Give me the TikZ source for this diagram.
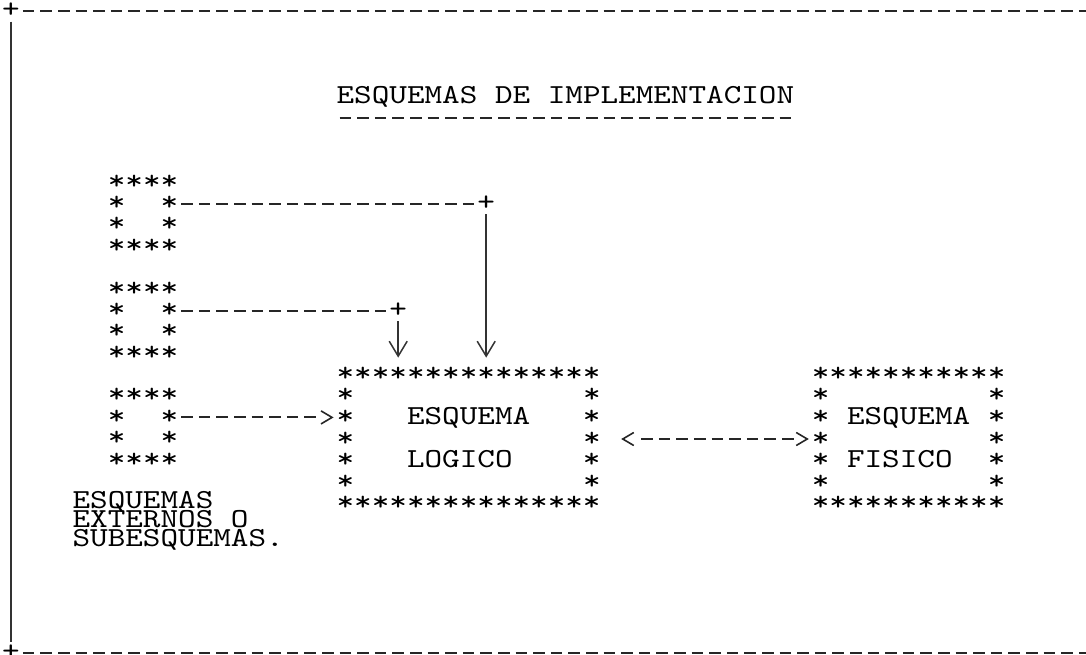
\documentclass[tikz,border=0pt]{standalone}
\usepackage{fontspec}
\newfontfamily\cour{lmmono10-regular}[Extension=.otf, FakeStretch=1.219]
\usetikzlibrary{arrows.meta,
                positioning}
% one text row of the grid: fixed height and depth
\newcommand\rw[1]{\rule[-3.7pt]{0pt}{21.3pt}#1}
\newcommand\tightrows{\lineskiplimit=-30pt\relax}

\begin{document}
\begin{tikzpicture}[
    x = 17.6pt, y = -21.4pt,
    node distance = 21.4pt and 211.2pt,
        txt/.style = {font=\cour\fontsize{27.5pt}{21.4pt}\selectfont,
                      inner sep=0pt, outer sep=0pt, align=left},
      plain/.style = {txt, font=\cour\fontsize{27.5pt}{19pt}\selectfont\tightrows},
       hyph/.style = {draw=black!85, line width=1.8pt,
                      dash pattern=on 11.6pt off 6pt, dash phase=14.6pt},
       % eight dashes, then nothing under the tip
       feed/.style = {hyph, line width=2.1pt, dash phase=0pt,
                      dash pattern=on 0pt off 3pt on 11.6pt off 6pt on 11.6pt off 6pt
                      on 11.6pt off 6pt on 11.6pt off 6pt on 11.6pt off 6pt on 11.6pt off 6pt
                      on 11.6pt off 6pt on 11.6pt off 40pt},
       % nine dashes between two tips
       twin/.style = {hyph, line width=2.1pt, dash phase=0pt,
                      dash pattern=on 0pt off 17.6pt on 11.6pt off 6pt on 11.6pt off 6pt
                      on 11.6pt off 6pt on 11.6pt off 6pt on 11.6pt off 6pt on 11.6pt off 6pt
                      on 11.6pt off 6pt on 11.6pt off 6pt on 11.6pt off 40pt},
       vert/.style = {draw=black!80, line width=1.5pt},
       vtip/.style = {-{Straight Barb[length=15pt, width=18pt, line width=1.5pt]}},
    >={Straight Barb[length=11pt, width=13pt, line width=1.6pt]}
                    ]
  \useasboundingbox (-11pt,11pt) rectangle (1075pt,-643pt);
  % frame
  \node [txt] (tl) at (0,0)  {\rw{+}};
  \node [txt] (bl) at (0,30) {\rw{+}};
  %
  \node [txt] (title) at (31.5,4) {\rw{ESQUEMAS DE IMPLEMENTACION}};
  %--- external schemas
  \node [txt] (ext1) at (7.5,9.5) {\rw{****}\\ \rw{*~~*}\\ \rw{*~~*}\\ \rw{****}};
  \node [txt, below=of ext1] (ext2) {\rw{****}\\ \rw{*~~*}\\ \rw{*~~*}\\ \rw{****}};
  \node [txt, below=of ext2] (ext3) {\rw{****}\\ \rw{*~~*}\\ \rw{*~~*}\\ \rw{****}};
  \node [plain, anchor=north west] (extlab) at ([yshift=15pt]3.5,23)
        {\rule{0pt}{20pt}ESQUEMAS\\EXTERNOS O\\SUBESQUEMAS.};
  %=== logical and physical schema
  \node [txt] (logico) at (26,20)
        {\rw{***************}\\ \rw{*~~~~~~~~~~~~~*}\\ \rw{*~~~ESQUEMA~~~*}\\
         \rw{*~~~~~~~~~~~~~*}\\ \rw{*~~~LOGICO~~~~*}\\ \rw{*~~~~~~~~~~~~~*}\\
         \rw{***************}};
  \node [txt, right=of logico] (fisico)
        {\rw{***********}\\ \rw{*~~~~~~~~~*}\\ \rw{*~ESQUEMA~*}\\
         \rw{*~~~~~~~~~*}\\ \rw{*~FISICO~~*}\\ \rw{*~~~~~~~~~*}\\
         \rw{***********}};
  %--- corners of the feeders
  \node [txt] (j1) at (27,9)  {\rw{+}};
  \node [txt] (j2) at (22,14) {\rw{+}};
  \coordinate (e3) at ([yshift=10.7pt]ext3.east);
  %---
  \draw [hyph]
    (tl.east) edge ++(1080pt,0pt)
    (bl.east) edge ++(1080pt,0pt)
    (title.west) ++(0,1) edge ++(26,0)
    (ext1.east |- j1) edge (j1.west)
    (ext2.east |- j2) edge (j2.west)
    ;
  \draw [vert] (tl.south) -- (bl.north);
  \draw [vert, vtip, shorten >=6pt] (j1.south) -- (j1.south |- logico.north);
  \draw [vert, vtip, shorten >=6pt] (j2.south) -- (j2.south |- logico.north);
  \draw [feed, ->, shorten >=3pt] (e3) -- (e3 -| logico.west);
  \draw [twin, <->, shorten <=20.6pt, shorten >=3pt] (logico) -- (fisico);
  %%%%%%
\end{tikzpicture}
\end{document}
